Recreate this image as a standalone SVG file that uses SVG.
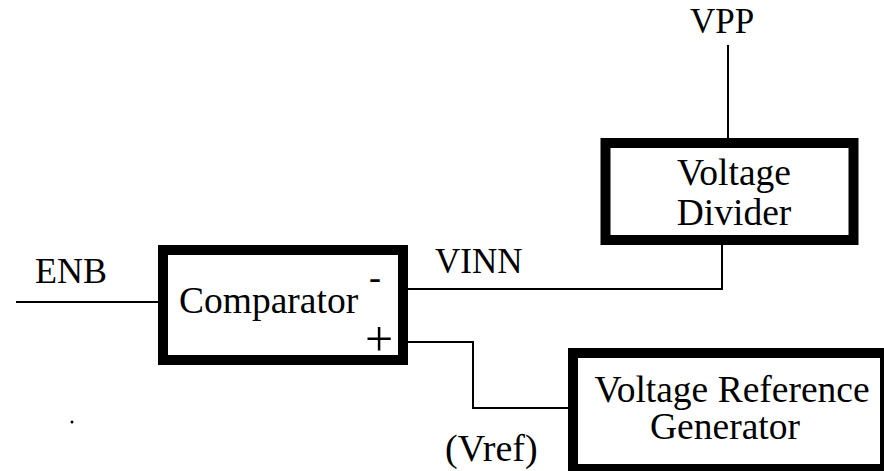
<svg xmlns="http://www.w3.org/2000/svg" width="884" height="471" viewBox="0 0 884 471">
<style>
.box{fill:#fff;stroke:#000;stroke-width:10}
.wire{fill:none;stroke:#000;stroke-width:2}
text{font-family:"Liberation Serif","Times New Roman",serif;fill:#000}
.t{font-size:37.5px}
.l{font-size:35px}
</style>
<rect width="884" height="471" fill="#fff"/>
<g id="connectors">
<line class="wire" x1="16" y1="302" x2="158" y2="302"/>
<polyline class="wire" points="408,289 722,289 722,245"/>
<line class="wire" x1="728" y1="45" x2="728" y2="138"/>
<polyline class="wire" points="408,342 473,342 473,408 568,408"/>
</g>
<g id="comparator">
<rect class="box" x="163" y="250" width="240" height="110"/>
<text class="t" x="179" y="313">Comparator</text>
<text x="369" y="289" style="font-size:36px">-</text>
<text x="365" y="356" style="font-size:50px">+</text>
</g>
<g id="voltage-divider">
<rect class="box" x="605.5" y="143" width="248" height="97"/>
<text class="t" x="734" y="185" text-anchor="middle">Voltage</text>
<text class="t" x="734" y="225" text-anchor="middle">Divider</text>
</g>
<g id="voltage-reference-generator">
<rect class="box" x="573" y="353" width="312" height="116"/>
<text class="t" x="732" y="402" text-anchor="middle">Voltage Reference</text>
<text class="t" x="725" y="439" text-anchor="middle">Generator</text>
</g>
<g id="labels">
<text x="35" y="283" style="font-size:36px">ENB</text>
<text class="l" x="435" y="273">VINN</text>
<text class="l" x="722" y="33" text-anchor="middle">VPP</text>
<text x="445" y="461" style="font-size:38px">(Vref)</text>
<circle cx="72" cy="422" r="1.5" fill="#000"/>
</g>
</svg>
